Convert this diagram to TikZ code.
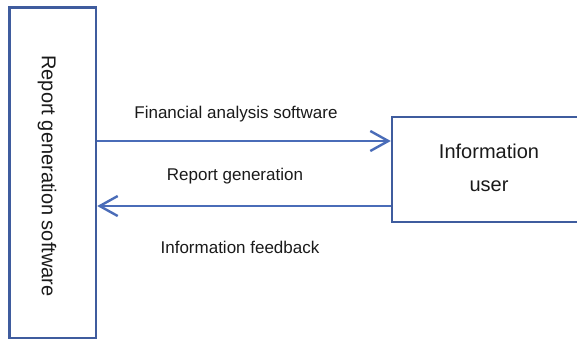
\documentclass[tikz,border=0pt]{standalone}
\usepackage{fontspec}
\setmainfont{Liberation Sans}
\usetikzlibrary{arrows.meta}
\definecolor{boxblue}{HTML}{3F5C9E}
\definecolor{arrblue}{HTML}{4A6CB8}
\definecolor{txt}{HTML}{1A1A1A}
\tikzset{
  boxstyle/.style={draw=boxblue, line width=2.5pt, inner sep=0pt},
  arr/.style={draw=arrblue, line width=2.4pt, -{Straight Barb[length=18pt,width=20pt,line width=2.4pt]}},
  lbl/.style={text=txt, font=\fontsize{17pt}{19pt}\selectfont, inner sep=0pt},
  big/.style={text=txt, font=\fontsize{20pt}{22pt}\selectfont, inner sep=0pt}
}
\begin{document}
\begin{tikzpicture}[x=1pt,y=-1pt]
\useasboundingbox (0,0) rectangle (577,340);
\clip (0,0) rectangle (577,340);
\node[boxstyle, minimum width=86.5pt, minimum height=330.5pt] (L) at (52.75,172.75) {};
\node[boxstyle, minimum width=210pt, minimum height=105pt] (R) at (497,169.5) {};
\node[big, rotate=-90] (Lt) at (47,176) {Report generation software};
\node[big] (R1) at (489,151) {Information};
\node[big] (R2) at (489,186) {user};
\coordinate (ya) at (0,141);
\coordinate (yb) at (0,206);
\draw[arr] (L.east |- ya) -- (R.west |- ya);
\draw[arr] (R.west |- yb) -- (L.east |- yb);
\node[lbl] (t1) at (236,114) {Financial analysis software};
\node[lbl] (t2) at (235,176) {Report generation};
\node[lbl] (t3) at (240,247) {Information feedback};
\end{tikzpicture}
\end{document}
